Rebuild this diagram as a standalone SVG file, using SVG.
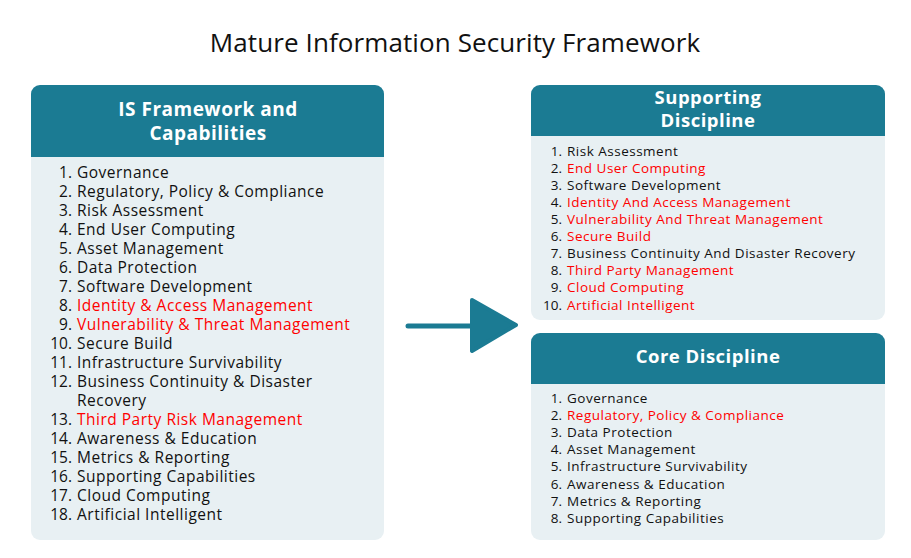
<svg xmlns="http://www.w3.org/2000/svg" width="911" height="558" viewBox="0 0 911 558">
<defs>
<style>
.title{font-family:"Open Sans","Liberation Sans",sans-serif;font-size:26px;fill:#111;letter-spacing:0.1px;}
.hdr{font-family:"Open Sans","Liberation Sans",sans-serif;font-weight:700;fill:#fff;text-anchor:middle;letter-spacing:0.5px;}
.body{fill:#e8f0f3;}
.head{fill:#1b7b93;}
.li{font-family:"Open Sans","Liberation Sans",sans-serif;fill:#111;}
.li text{letter-spacing:0.5px;}
.li text.n{text-anchor:end;letter-spacing:0;}
.li text.r{fill:#ff0000;}
.L{font-size:15.5px;}
.S{font-size:13.5px;}
</style>
</defs>
<rect width="911" height="558" fill="#ffffff"/>
<text class="title" x="455" y="52" text-anchor="middle">Mature Information Security Framework</text>

<g id="is-framework">
<rect class="body" x="31" y="85" width="353" height="455" rx="9"/>
<path class="head" d="M31 157 V94 a9 9 0 0 1 9 -9 H375 a9 9 0 0 1 9 9 V157 Z"/>
<text class="hdr" x="208" y="116" font-size="19">IS Framework and</text>
<text class="hdr" x="208" y="140" font-size="19">Capabilities</text>
<g class="li L">
<text class="n" x="72" y="178">1.</text><text x="77" y="178">Governance</text>
<text class="n" x="72" y="197">2.</text><text x="77" y="197">Regulatory, Policy &amp; Compliance</text>
<text class="n" x="72" y="216">3.</text><text x="77" y="216">Risk Assessment</text>
<text class="n" x="72" y="235">4.</text><text x="77" y="235">End User Computing</text>
<text class="n" x="72" y="254">5.</text><text x="77" y="254">Asset Management</text>
<text class="n" x="72" y="273">6.</text><text x="77" y="273">Data Protection</text>
<text class="n" x="72" y="292">7.</text><text x="77" y="292">Software Development</text>
<text class="n" x="72" y="311">8.</text><text class="r" x="77" y="311">Identity &amp; Access Management</text>
<text class="n" x="72" y="330">9.</text><text class="r" x="77" y="330">Vulnerability &amp; Threat Management</text>
<text class="n" x="72" y="349">10.</text><text x="77" y="349">Secure Build</text>
<text class="n" x="72" y="368">11.</text><text x="77" y="368">Infrastructure Survivability</text>
<text class="n" x="72" y="387">12.</text><text x="77" y="387">Business Continuity &amp; Disaster</text>
<text x="77" y="406">Recovery</text>
<text class="n" x="72" y="425">13.</text><text class="r" x="77" y="425">Third Party Risk Management</text>
<text class="n" x="72" y="444">14.</text><text x="77" y="444">Awareness &amp; Education</text>
<text class="n" x="72" y="463">15.</text><text x="77" y="463">Metrics &amp; Reporting</text>
<text class="n" x="72" y="482">16.</text><text x="77" y="482">Supporting Capabilities</text>
<text class="n" x="72" y="501">17.</text><text x="77" y="501">Cloud Computing</text>
<text class="n" x="72" y="520">18.</text><text x="77" y="520">Artificial Intelligent</text>
</g>
</g>

<g id="supporting-discipline">
<rect class="body" x="531" y="85" width="354" height="235" rx="9"/>
<path class="head" d="M531 136 V94 a9 9 0 0 1 9 -9 H876 a9 9 0 0 1 9 9 V136 Z"/>
<text class="hdr" x="708" y="104" font-size="18.5">Supporting</text>
<text class="hdr" x="708" y="127" font-size="18.5">Discipline</text>
<g class="li S">
<text class="n" x="562" y="156">1.</text><text x="567" y="156">Risk Assessment</text>
<text class="n" x="562" y="173">2.</text><text class="r" x="567" y="173">End User Computing</text>
<text class="n" x="562" y="190">3.</text><text x="567" y="190">Software Development</text>
<text class="n" x="562" y="207">4.</text><text class="r" x="567" y="207">Identity And Access Management</text>
<text class="n" x="562" y="224">5.</text><text class="r" x="567" y="224">Vulnerability And Threat Management</text>
<text class="n" x="562" y="241">6.</text><text class="r" x="567" y="241">Secure Build</text>
<text class="n" x="562" y="258">7.</text><text x="567" y="258">Business Continuity And Disaster Recovery</text>
<text class="n" x="562" y="275">8.</text><text class="r" x="567" y="275">Third Party Management</text>
<text class="n" x="562" y="292">9.</text><text class="r" x="567" y="292">Cloud Computing</text>
<text class="n" x="562" y="310">10.</text><text class="r" x="567" y="310">Artificial Intelligent</text>
</g>
</g>

<g id="core-discipline">
<rect class="body" x="531" y="333" width="354" height="207" rx="9"/>
<path class="head" d="M531 384 V342 a9 9 0 0 1 9 -9 H876 a9 9 0 0 1 9 9 V384 Z"/>
<text class="hdr" x="708" y="363" font-size="18.5">Core Discipline</text>
<g class="li S">
<text class="n" x="562" y="403">1.</text><text x="567" y="403">Governance</text>
<text class="n" x="562" y="420">2.</text><text class="r" x="567" y="420">Regulatory, Policy &amp; Compliance</text>
<text class="n" x="562" y="437">3.</text><text x="567" y="437">Data Protection</text>
<text class="n" x="562" y="454">4.</text><text x="567" y="454">Asset Management</text>
<text class="n" x="562" y="471">5.</text><text x="567" y="471">Infrastructure Survivability</text>
<text class="n" x="562" y="489">6.</text><text x="567" y="489">Awareness &amp; Education</text>
<text class="n" x="562" y="506">7.</text><text x="567" y="506">Metrics &amp; Reporting</text>
<text class="n" x="562" y="523">8.</text><text x="567" y="523">Supporting Capabilities</text>
</g>
</g>

<g id="connectors">
<line x1="408" y1="326" x2="476" y2="326" stroke="#1b7b93" stroke-width="5" stroke-linecap="round"/>
<path d="M472 300 L516 325 L472 351 Z" fill="#1b7b93" stroke="#1b7b93" stroke-width="4" stroke-linejoin="round"/>
</g>
</svg>
